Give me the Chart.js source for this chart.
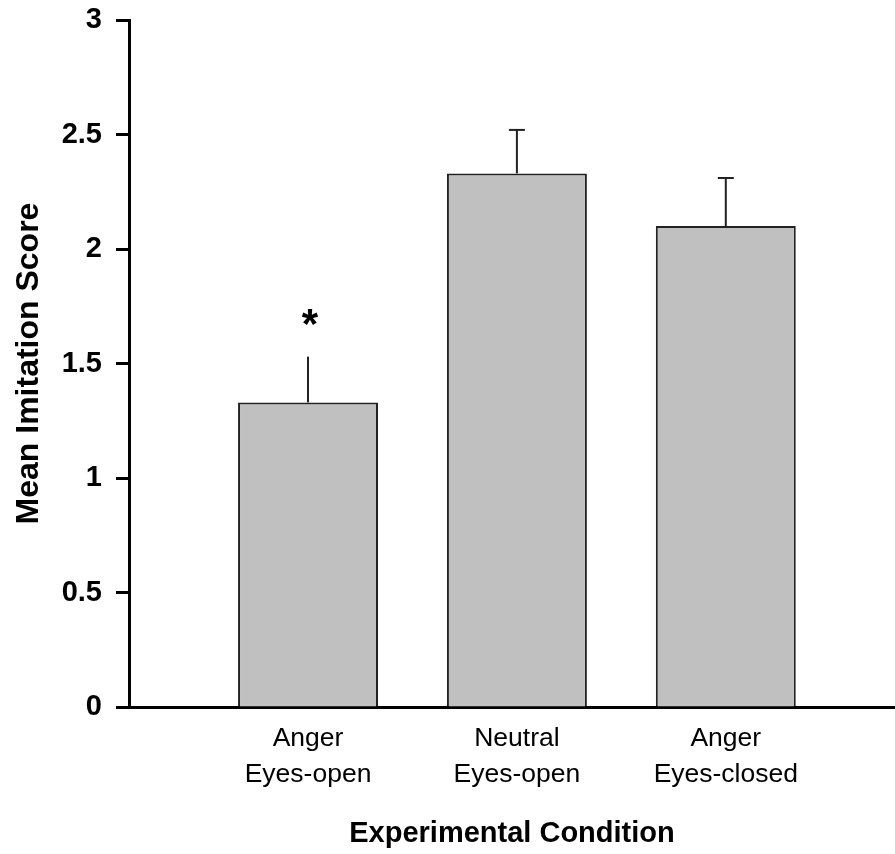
<!DOCTYPE html>
<html>
<head>
<meta charset="utf-8">
<script src="https://cdn.jsdelivr.net/npm/chart.js@4"></script>
<style>
  html,body{margin:0;padding:0;background:#fff;}
  #wrap{width:895px;height:854px;}
</style>
</head>
<body>
<div id="wrap"><canvas id="chart" width="895" height="854"></canvas></div>
<script>
const categories=[['Anger','Eyes-open'],['Neutral','Eyes-open'],['Anger','Eyes-closed']];
const means=[1.33,2.33,2.10];
const errors=[0.20,0.19,0.21];
const marks=['*','',''];
const yTicks=[0,0.5,1,1.5,2,2.5,3];
const yTickLabels=['0','0.5','1','1.5','2','2.5','3'];

const FONT='"Liberation Sans", Arial, sans-serif';

// up-only error bars plus significance marks
const errorBars={
  id:'errorBars',
  afterDatasetsDraw(chart,args,opts){
    const {ctx,scales:{x,y}}=chart;
    ctx.save();
    ctx.strokeStyle='#222';ctx.lineWidth=2;
    means.forEach((m,i)=>{
      const px=x.getPixelForValue(i+1);
      const top=y.getPixelForValue(m+errors[i]);
      ctx.beginPath();ctx.moveTo(px,y.getPixelForValue(m));ctx.lineTo(px,top);ctx.stroke();
      if(opts.caps[i]){ctx.beginPath();ctx.moveTo(px-8,top);ctx.lineTo(px+8,top);ctx.stroke();}
      if(marks[i]){
        ctx.fillStyle='#000';ctx.font='bold 42px '+FONT;ctx.textAlign='center';ctx.textBaseline='middle';
        ctx.fillText(marks[i],px+2,top-30);
      }
    });
    ctx.restore();
  }
};

new Chart(document.getElementById('chart'),{
  type:'bar',
  data:{datasets:[{
    data:means.map((v,i)=>({x:i+1,y:v})),
    backgroundColor:'#c0c0c0',borderColor:'#222',borderWidth:2,
    barPercentage:0.67,categoryPercentage:1
  }]},
  plugins:[errorBars],
  options:{
    responsive:false,animation:false,
    layout:{padding:{top:20,right:0,left:0,bottom:0}},
    plugins:{legend:{display:false},tooltip:{enabled:false},errorBars:{caps:[false,true,true]}},
    scales:{
      x:{
        type:'linear',min:0.143,max:3.81,offset:false,
        afterBuildTicks:s=>{s.ticks=categories.map((_,i)=>({value:i+1}));},
        afterFit:s=>{s.height=147;s.paddingLeft=0;s.paddingRight=0;},
        grid:{display:false,drawTicks:false},
        border:{display:true,color:'#000',width:3},
        ticks:{color:'#000',font:{family:FONT,size:26.5,lineHeight:1.36},padding:14,maxRotation:0,autoSkip:false,
          callback:v=>categories[v-1]||''},
        title:{display:true,text:'Experimental Condition',color:'#000',font:{family:FONT,size:29,weight:'bold'},padding:{top:20,bottom:3}}
      },
      y:{
        min:0,max:3,
        afterBuildTicks:s=>{s.ticks=yTicks.map(v=>({value:v}));},
        afterFit:s=>{s.width=129;s.paddingTop=0;s.paddingBottom=0;},
        grid:{drawOnChartArea:false,drawTicks:true,tickLength:13,tickWidth:3,tickColor:'#000'},
        border:{display:true,color:'#000',width:3},
        ticks:{color:'#000',font:{family:FONT,size:29,weight:'bold'},padding:14,
          callback:(v)=>yTickLabels[yTicks.indexOf(v)]},
        title:{display:true,text:'Mean Imitation Score',color:'#000',font:{family:FONT,size:32,weight:'bold'},padding:{top:10,bottom:4}}
      }
    }
  }
});
</script>
</body>
</html>
